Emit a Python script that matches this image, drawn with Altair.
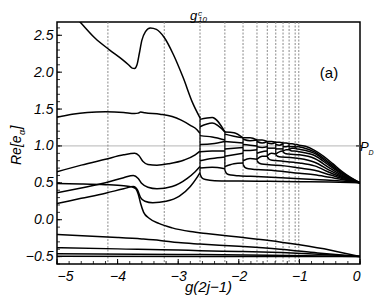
import altair as alt
import pandas as pd

# ---------------- data ----------------
LINES = [-4.16, -3.23, -2.64, -2.23, -1.93, -1.70, -1.53, -1.39, -1.27, -1.17, -1.07, -1.01]
PD_LEVEL = [1.0]

T_X = [-4.77, -4.62, -4.37, -4.13, -3.92, -3.82, -3.76, -3.72, -3.68, -3.64, -3.60, -3.54, -3.46, -3.36, -3.23, -3.08, -2.92, -2.76, -2.64]
T_Y = [2.81, 2.68, 2.46, 2.30, 2.17, 2.10, 2.055, 2.05, 2.10, 2.26, 2.43, 2.55, 2.60, 2.58, 2.47, 2.24, 1.93, 1.58, 1.38]
S_X = [-5, -4.75, -4.5, -4.2, -3.9, -3.72, -3.66, -3.62, -3.55, -3.3, -3.1, -2.95, -2.8, -2.69, -2.64]
S_Y = [1.39, 1.43, 1.455, 1.465, 1.455, 1.44, 1.445, 1.46, 1.45, 1.43, 1.40, 1.35, 1.28, 1.22, 1.17]
U1_X = [-5, -4.6, -4.2, -3.9, -3.72, -3.65, -3.58, -3.5, -3.35, -3.15, -2.9, -2.72, -2.64]
U1_Y = [0.65, 0.74, 0.82, 0.88, 0.90, 0.87, 0.79, 0.75, 0.74, 0.76, 0.81, 0.88, 0.93]
U2_X = [-5, -4.6, -4.2, -3.9, -3.74, -3.66, -3.6, -3.5, -3.35, -3.1, -2.85, -2.72, -2.64]
U2_Y = [0.365, 0.43, 0.50, 0.57, 0.60, 0.56, 0.49, 0.44, 0.42, 0.45, 0.56, 0.65, 0.72]
U3_X = [-5, -4.6, -4.2, -3.9, -3.74, -3.67, -3.62, -3.55, -3.42, -3.2, -2.98, -2.8, -2.7, -2.64]
U3_Y = [0.22, 0.29, 0.36, 0.42, 0.45, 0.40, 0.30, 0.25, 0.23, 0.25, 0.32, 0.45, 0.56, 0.64]
D_X = [-5, -4.6, -4.2, -3.9, -3.76, -3.70, -3.66, -3.62, -3.57, -3.48, -3.32, -3.1, -2.8, -2.5, -2.0, -1.5, -1.0, -0.5, 0]
D_Y = [0.49, 0.485, 0.475, 0.46, 0.445, 0.42, 0.35, 0.22, 0.10, 0.02, -0.05, -0.11, -0.16, -0.19, -0.235, -0.28, -0.34, -0.41, -0.5]
LO1_X = [-5, -4.5, -4, -3.6, -3.3, -3.0, -2.64, -2.0, -1.32, -0.7, 0]
LO1_Y = [-0.20, -0.22, -0.24, -0.26, -0.28, -0.31, -0.33, -0.36, -0.40, -0.45, -0.5]
LO2_X = [-5, -4, -3, -2.64, -2, -1.3, -0.6, 0]
LO2_Y = [-0.38, -0.395, -0.41, -0.42, -0.43, -0.445, -0.47, -0.5]
LO3_X = [-5, -3, -1.5, 0]
LO3_Y = [-0.46, -0.47, -0.48, -0.5]
LO4_X = [-5, -2.5, 0]
LO4_Y = [-0.495, -0.5, -0.5]

F0_X = [-2.64, -2.61, -2.55, -2.4, -2.0, -1.5, -1.0, -0.5, 0]
F0_Y = [0.62, 0.57, 0.545, 0.53, 0.525, 0.52, 0.515, 0.51, 0.5]
F1_X = [-2.23, -2.20, -2.13, -2.0, -1.7, -1.3, -1.0, -0.75, -0.5, -0.25, 0]
F1_Y = [0.67, 0.625, 0.605, 0.595, 0.585, 0.57, 0.555, 0.545, 0.535, 0.52, 0.5]
F2_X = [-1.93, -1.90, -1.84, -1.7, -1.4, -1.0, -0.75, -0.5, -0.25, 0]
F2_Y = [0.75, 0.71, 0.69, 0.68, 0.665, 0.63, 0.61, 0.575, 0.54, 0.5]
F3_X = [-1.70, -1.67, -1.62, -1.5, -1.25, -1.0, -0.75, -0.5, -0.25, 0]
F3_Y = [0.80, 0.77, 0.755, 0.745, 0.73, 0.70, 0.67, 0.61, 0.55, 0.5]
F4_X = [-1.53, -1.50, -1.45, -1.3, -1.0, -0.75, -0.5, -0.25, 0]
F4_Y = [0.85, 0.82, 0.805, 0.795, 0.77, 0.73, 0.64, 0.56, 0.5]
F5_X = [-1.39, -1.36, -1.3, -1.15, -1.0, -0.75, -0.5, -0.25, 0]
F5_Y = [0.88, 0.86, 0.85, 0.845, 0.83, 0.78, 0.67, 0.57, 0.5]
F6_X = [-1.27, -1.24, -1.18, -1.0, -0.75, -0.5, -0.25, 0]
F6_Y = [0.92, 0.90, 0.89, 0.88, 0.83, 0.70, 0.58, 0.5]
F7_X = [-1.17, -1.14, -1.08, -1.0, -0.75, -0.5, -0.25, 0]
F7_Y = [0.95, 0.935, 0.93, 0.92, 0.87, 0.73, 0.595, 0.5]
F8_X = [-1.07, -1.05, -1.0, -0.75, -0.5, -0.25, 0]
F8_Y = [0.975, 0.962, 0.955, 0.90, 0.75, 0.605, 0.5]
F9_X = [-1.01, -0.95, -0.75, -0.5, -0.25, 0]
F9_Y = [0.99, 0.98, 0.92, 0.77, 0.615, 0.5]
TOPF_X = [-1.01, -0.9, -0.75, -0.6, -0.45, -0.3, -0.15, 0]
TOPF_Y = [1.01, 0.995, 0.94, 0.86, 0.76, 0.655, 0.57, 0.5]

# cell columns between consecutive transition lines: (y at left line, y mid, y at right line)
COL_L = [-2.64, -2.23, -1.93, -1.70, -1.53, -1.39, -1.27, -1.17, -1.07]
COL_M = [-2.44, -2.08, -1.815, -1.615, -1.46, -1.33, -1.22, -1.12, -1.04]
COL_R = [-2.23, -1.93, -1.70, -1.53, -1.39, -1.27, -1.17, -1.07, -1.01]
CELLS = [
    [(1.36, 1.385, 1.19), (1.26, 1.31, 1.19), (1.14, 1.12, 1.08), (1.02, 1.03, 1.06), (0.92, 0.93, 0.93), (0.80, 0.83, 0.85), (0.70, 0.71, 0.69)],
    [(1.19, 1.18, 1.11), (1.16, 1.13, 1.11), (1.06, 1.05, 1.04), (0.96, 0.97, 0.98), (0.86, 0.88, 0.90), (0.72, 0.76, 0.77)],
    [(1.11, 1.11, 1.08), (1.09, 1.07, 1.08), (1.02, 1.01, 1.00), (0.94, 0.94, 0.95), (0.80, 0.83, 0.82)],
    [(1.08, 1.08, 1.06), (1.06, 1.04, 1.06), (0.99, 0.98, 0.99), (0.90, 0.92, 0.93), (0.82, 0.86, 0.86)],
    [(1.06, 1.06, 1.05), (1.04, 1.03, 1.05), (0.97, 0.97, 0.97), (0.87, 0.90, 0.89)],
    [(1.05, 1.05, 1.04), (1.02, 1.01, 1.03), (0.96, 0.96, 0.96), (0.89, 0.92, 0.93)],
    [(1.04, 1.04, 1.03), (0.99, 0.99, 1.00), (0.93, 0.95, 0.95)],
    [(1.03, 1.03, 1.02), (0.99, 0.99, 0.99), (0.95, 0.97, 0.97)],
    [(1.02, 1.02, 1.01), (0.98, 0.99, 0.99)],
]
BAR_X = [-2.64, -2.23, -1.93, -1.70, -1.53, -1.39, -1.27, -1.17, -1.07, -1.01]
BAR_LO = [0.62, 0.67, 0.75, 0.80, 0.85, 0.88, 0.92, 0.95, 0.975, 0.99]
BAR_HI = [1.40, 1.20, 1.11, 1.08, 1.06, 1.05, 1.04, 1.03, 1.02, 1.01]

X_TICKS = [-5, -4, -3, -2, -1, 0]
Y_TICKS = [-0.5, 0.0, 0.5, 1.0, 1.5, 2.0, 2.5]
X_MINOR = [round(-5 + 0.2 * i, 2) for i in range(26)]
Y_MINOR = [round(-0.6 + 0.1 * i, 2) for i in range(33)]

W, H = 303, 242

# ---------------- build tables ----------------
curves = {
    "T": (T_X, T_Y), "S": (S_X, S_Y), "U1": (U1_X, U1_Y), "U2": (U2_X, U2_Y),
    "U3": (U3_X, U3_Y), "D": (D_X, D_Y), "LO1": (LO1_X, LO1_Y), "LO2": (LO2_X, LO2_Y),
    "LO3": (LO3_X, LO3_Y), "LO4": (LO4_X, LO4_Y),
    "F0": (F0_X, F0_Y), "F1": (F1_X, F1_Y), "F2": (F2_X, F2_Y), "F3": (F3_X, F3_Y),
    "F4": (F4_X, F4_Y), "F5": (F5_X, F5_Y), "F6": (F6_X, F6_Y), "F7": (F7_X, F7_Y),
    "F8": (F8_X, F8_Y), "F9": (F9_X, F9_Y), "TOPF": (TOPF_X, TOPF_Y),
}
rows = []
for name, (xs_, ys_) in curves.items():
    for i, (x, y) in enumerate(zip(xs_, ys_)):
        rows.append({"id": name, "x": x, "y": y, "o": i})
for k, col in enumerate(CELLS):
    for j, (yl, ym, yr) in enumerate(col):
        cid = f"c{k}_{j}"
        rows.append({"id": cid, "x": COL_L[k], "y": yl, "o": 0})
        rows.append({"id": cid, "x": COL_M[k], "y": ym, "o": 1})
        rows.append({"id": cid, "x": COL_R[k], "y": yr, "o": 2})
df = pd.DataFrame(rows)

xs = alt.Scale(domain=[-5, 0], nice=False, zero=False)
ys = alt.Scale(domain=[-0.6, 2.68], nice=False, zero=False)

FONT = "Liberation Sans"

xaxis = alt.Axis(values=X_TICKS, format="d", grid=False, ticks=False, domain=False,
                 labelFont=FONT, labelFontSize=14, labelFontStyle="italic", labelColor="black",
                 labelPadding=5, title="")
yaxis = alt.Axis(values=Y_TICKS, format=".1f", grid=False, ticks=False, domain=False,
                 labelFont=FONT, labelFontSize=14, labelFontStyle="italic", labelColor="black",
                 labelPadding=4, title="")

pd_line = alt.Chart(pd.DataFrame({"y": PD_LEVEL})).mark_rule(color="#c4c4c4", strokeWidth=1.3).encode(
    y=alt.Y("y:Q", scale=ys, axis=yaxis))

dotted = alt.Chart(pd.DataFrame({"x": LINES})).mark_rule(color="#8a8a8a", strokeWidth=1, strokeDash=[2, 1.5]).encode(
    x=alt.X("x:Q", scale=xs, axis=xaxis))

lines = alt.Chart(df).mark_line(color="black", strokeWidth=1.5, interpolate="monotone", clip=True).encode(
    x=alt.X("x:Q", scale=xs), y=alt.Y("y:Q", scale=ys), detail="id:N", order="o:Q")

bars = alt.Chart(pd.DataFrame({"x": BAR_X, "lo": BAR_LO, "hi": BAR_HI})).mark_rule(color="black", strokeWidth=1.2).encode(
    x=alt.X("x:Q", scale=xs), y=alt.Y("lo:Q", scale=ys), y2="hi:Q")

xmaj = alt.Chart(pd.DataFrame({"v": X_TICKS})).mark_rule(color="black", strokeWidth=1).encode(
    x=alt.X("v:Q", scale=xs), y=alt.value(H), y2=alt.value(H - 5))
xmin = alt.Chart(pd.DataFrame({"v": X_MINOR})).mark_rule(color="black", strokeWidth=0.8).encode(
    x=alt.X("v:Q", scale=xs), y=alt.value(H), y2=alt.value(H - 3))
ymaj = alt.Chart(pd.DataFrame({"v": Y_TICKS})).mark_rule(color="black", strokeWidth=1).encode(
    y=alt.Y("v:Q", scale=ys), x=alt.value(0), x2=alt.value(5))
ymin = alt.Chart(pd.DataFrame({"v": Y_MINOR})).mark_rule(color="black", strokeWidth=0.8).encode(
    y=alt.Y("v:Q", scale=ys), x=alt.value(0), x2=alt.value(3))
pdtick = alt.Chart(pd.DataFrame({"y": PD_LEVEL})).mark_rule(color="black", strokeWidth=1).encode(
    y=alt.Y("y:Q", scale=ys), x=alt.value(W - 4), x2=alt.value(W + 2))


def label(txt, x, y, size, style="italic", align="left", baseline="alphabetic", angle=0):
    return alt.Chart(pd.DataFrame({"t": [txt]})).mark_text(
        font=FONT, fontSize=size, fontStyle=style, align=align, baseline=baseline,
        angle=angle, color="black").encode(text="t:N", x=alt.value(x), y=alt.value(y))


texts = [
    label("g", 133, -2, 13),
    label("c", 141, -6, 8),
    label("10", 141, -0.5, 8),
    label("(a)", 272, 51, 15, style="normal", align="center", baseline="middle"),
    label("P", 303, 129, 13),
    label("D", 311.5, 133, 7),
    label("Re[e", -36, 143, 14, angle=270),
    label("\u03b1", -32, 113, 9, angle=270),
    label("]", -36, 107.5, 14, angle=270),
    label("g(2j\u22121)", W / 2, 270, 15, align="center"),
]

chart = alt.layer(pd_line, dotted, lines, bars, xmaj, xmin, ymaj, ymin, pdtick, *texts).properties(
    width=W, height=H,
    padding={"left": 49, "top": 14, "right": 14, "bottom": 31},
    autosize=alt.AutoSizeParams(type="none"),
).configure_view(stroke="black", strokeWidth=1.5)

chart.save("out.html", embed_options={"renderer": "svg", "actions": False})
